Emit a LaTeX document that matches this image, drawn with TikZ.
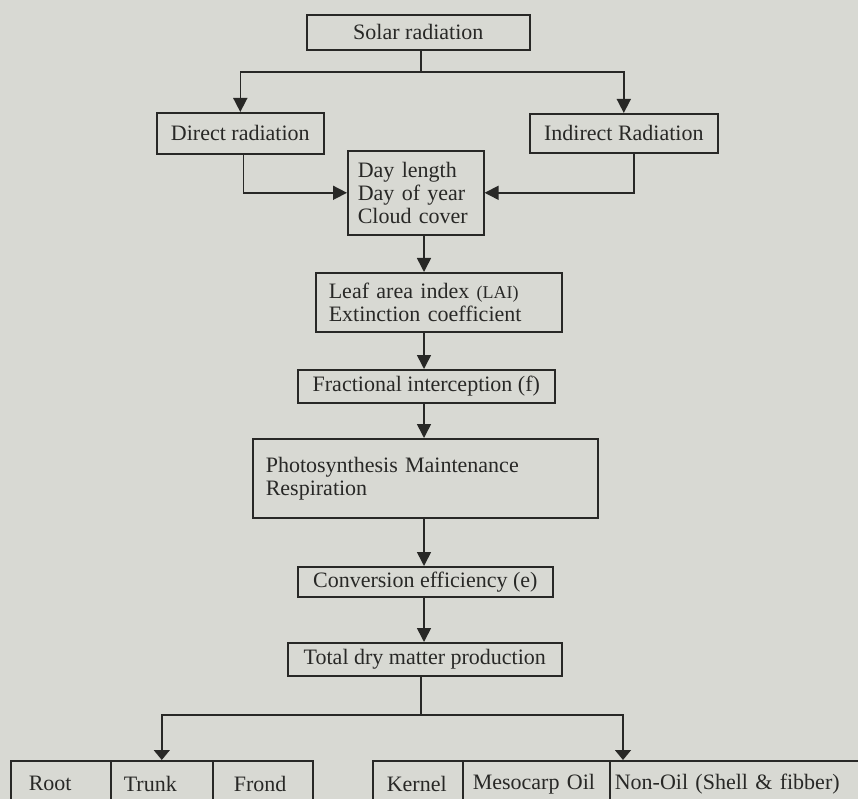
\documentclass[tikz,border=0pt]{standalone}
\usepackage{fontspec}
\setmainfont{Liberation Serif}
\usetikzlibrary{positioning,arrows.meta}
\definecolor{scanpaper}{RGB}{216,217,211}
\definecolor{scanink}{RGB}{40,40,38}
\newcommand{\abbrsize}{\fontsize{18}{20}\selectfont}

\begin{document}
\begin{tikzpicture}[
        x=1pt, y=-1pt,
        box/.style={
                rectangle,
                draw=scanink,
                line width=1.6pt,
                text=scanink,
                anchor=north west,
                inner sep=0pt,
                font=\fontsize{22}{23}\selectfont
            },
        listbox/.style={
                box,
                align=left
            },
        part/.style={
                box,
                align=left,
                minimum height=46pt
            },
        link/.style = {draw=scanink, line width=1.6pt},
        flow/.style = {link, -{Triangle[width=14pt,length=14pt]}},
        flowsmall/.style = {link, -{Triangle[width=16pt,length=10pt]}}
    ]
    \useasboundingbox (0,0) rectangle (858,799);
    \fill[scanpaper] (0,0) rectangle (858,799);
    \clip (0,0) rectangle (858,799);

    \node[box, minimum width=223pt, minimum height=35pt] (solarRad) at (306,14) {Solar radiation};
    \node[box, minimum width=167pt, minimum height=41pt] (directRad) at (156,112) {Direct radiation};
    \node[box, minimum width=188pt, minimum height=39pt] (indirectRad) at (529,113) {Indirect Radiation};
    \node[listbox, text width=116pt, inner xsep=10pt, minimum height=84pt] (dayFactors) at (347,150)
        {Day length\\Day of year\\Cloud cover};
    \node[listbox, text width=220pt, inner xsep=13pt, minimum height=59pt] (leafArea) at (315,272)
        {Leaf area index {\abbrsize(LAI)}\\Extinction coefficient};
    \node[box, minimum width=257pt, minimum height=33pt] (fracInt) at (297,369) {Fractional interception (f)};
    \node[listbox, text width=319pt, inner xsep=13pt, minimum height=79pt] (photoResp) at (252,438)
        {Photosynthesis Maintenance\\Respiration};
    \node[box, minimum width=255pt, minimum height=30pt] (convEff) at (297,566) {Conversion efficiency (e)};
    \node[box, minimum width=274pt, minimum height=33pt] (dryMatter) at (287,642) {Total dry matter production};

    % vegetative parts
    \node[part, text width=64pt, inner xsep=18pt] (root) at (10,760) {Root};
    \node[part, text width=76pt, inner xsep=13pt] (trunk) at (110,760) {Trunk};
    \node[part, text width=58pt, inner xsep=21pt] (frond) at (212,760) {Frond};
    % bunch parts
    \node[part, text width=62pt, inner xsep=14pt] (kernel) at (372,760) {Kernel};
    \node[part, text width=127pt, inner xsep=10pt] (mesocarp) at (462,760) {Mesocarp Oil};
    \node[part, text width=250pt, inner xsep=5pt] (nonOil) at (609,760) {Non-Oil (Shell \& fibber)};

    \coordinate (solarSplit) at (421,72);
    \coordinate (spine) at (424,0);
    \coordinate (drySplit) at (421,715);

    \draw[link] (solarRad.south -| solarSplit) -- (solarSplit);
    \draw[flow] (solarSplit) -| (directRad.north);
    \draw[flow] (solarSplit) -| (indirectRad.north);
    \draw[flow] ([xshift=3pt]directRad.south) |- (dayFactors.west);
    \draw[flow] ([xshift=10pt]indirectRad.south) |- (dayFactors.east);

    \draw[flow] (dayFactors.south -| spine) -- (leafArea.north -| spine);
    \draw[flow] (leafArea.south -| spine) -- (fracInt.north -| spine);
    \draw[flow] (fracInt.south -| spine) -- (photoResp.north -| spine);
    \draw[flow] (photoResp.south -| spine) -- (convEff.north -| spine);
    \draw[flow] (convEff.south -| spine) -- (dryMatter.north -| spine);

    \draw[link] (dryMatter.south -| drySplit) -- (drySplit);
    \draw[flowsmall] (drySplit) -| (trunk.north);
    \draw[flowsmall] (drySplit) -| ([xshift=14pt]nonOil.north west);
\end{tikzpicture}
\end{document}
